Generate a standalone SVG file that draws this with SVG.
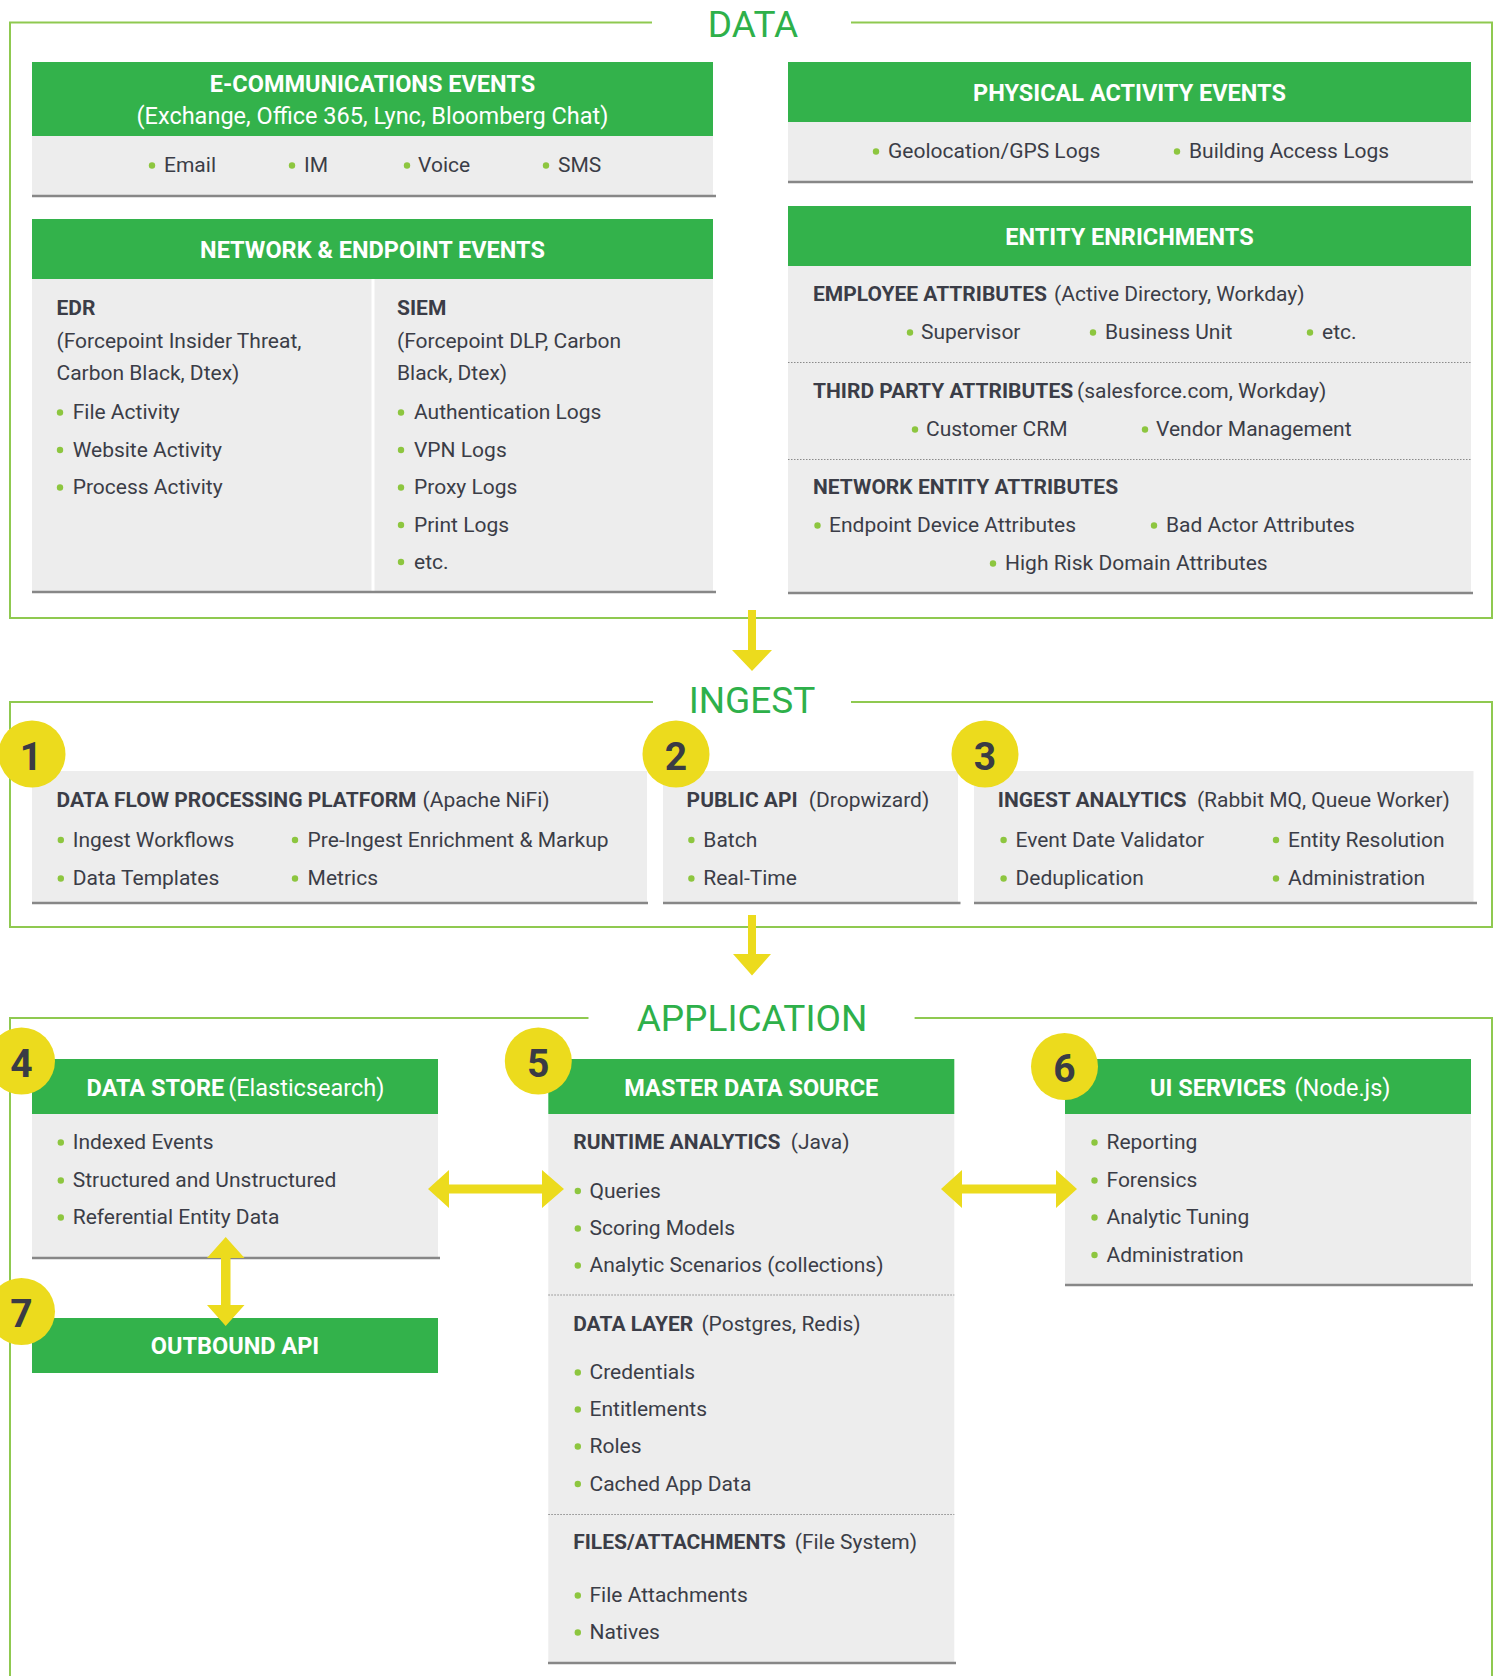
<svg xmlns="http://www.w3.org/2000/svg" width="1498" height="1676" viewBox="0 0 1498 1676">
<style>
.sec{fill:none;stroke:#8fc950;stroke-width:2}
.title{font-family:Roboto,"Liberation Sans",sans-serif;font-size:37px;font-weight:400;fill:#2eb04a;text-anchor:middle}
.hdr{fill:#33b24b}
.bod{fill:#ededed}
.rule{stroke:#878787;stroke-width:2.5}
.dots{stroke:#8a8a8a;stroke-width:1;stroke-dasharray:1.5 1.5}
.ht{font-family:Roboto,"Liberation Sans",sans-serif;font-size:23.5px;font-weight:700;fill:#ffffff}
.hr{font-weight:400}
.t{font-family:Roboto,"Liberation Sans",sans-serif;font-size:21px;font-weight:400;fill:#3b3d47}
.tb{font-weight:700}
.b{fill:#8dc63f}
.circ{fill:#ecdb1d}
.num{font-family:Roboto,"Liberation Sans",sans-serif;font-size:39px;font-weight:700;fill:#3a3b45;text-anchor:middle}
.arr{fill:#ecdb1d}
.mid{text-anchor:middle}
</style>

<!-- Sections -->
<g id="section-data">
<path class="sec" d="M652,22.5 H10 V618 H1492 V22.5 H851"/>
<text class="title" x="753" y="36.5">DATA</text>
</g>
<g id="section-ingest">
<path class="sec" d="M653,702 H10 V927 H1492 V702 H851"/>
<text class="title" x="752" y="712.5">INGEST</text>
</g>
<g id="section-application">
<path class="sec" d="M588.5,1018 H10 V1680 M1492,1680 V1018 H914.6"/>
<text class="title" x="752" y="1031">APPLICATION</text>
</g>

<!-- E-Communications -->
<g id="ecomm">
<rect class="hdr" x="32" y="62" width="681" height="74"/>
<rect class="bod" x="32" y="136" width="681" height="60"/>
<line class="rule" x1="32" y1="196" x2="716" y2="196"/>
<text class="ht mid" x="372.5" y="92">E-COMMUNICATIONS EVENTS</text>
<text class="ht hr mid" x="372.5" y="124">(Exchange, Office 365, Lync, Bloomberg Chat)</text>
<circle class="b" cx="152" cy="165.5" r="3.2"/><text class="t" x="164" y="172">Email</text>
<circle class="b" cx="292" cy="165.5" r="3.2"/><text class="t" x="304" y="172">IM</text>
<circle class="b" cx="407" cy="165.5" r="3.2"/><text class="t" x="418" y="172">Voice</text>
<circle class="b" cx="546" cy="165.5" r="3.2"/><text class="t" x="558" y="172">SMS</text>
</g>

<!-- Network & Endpoint -->
<g id="network-endpoint">
<rect class="hdr" x="32" y="219" width="681" height="60"/>
<rect class="bod" x="32" y="279" width="681" height="313"/>
<line x1="373" y1="279" x2="373" y2="592" stroke="#ffffff" stroke-width="3"/>
<line class="rule" x1="32" y1="592" x2="716" y2="592"/>
<text class="ht mid" x="372.5" y="258">NETWORK &amp; ENDPOINT EVENTS</text>
<text class="t tb" x="56.5" y="315">EDR</text>
<text class="t" x="56.5" y="348">(Forcepoint Insider Threat,</text>
<text class="t" x="56.5" y="380">Carbon Black, Dtex)</text>
<circle class="b" cx="60" cy="412.5" r="3.2"/><text class="t" x="72.7" y="419">File Activity</text>
<circle class="b" cx="60" cy="450" r="3.2"/><text class="t" x="72.7" y="456.5">Website Activity</text>
<circle class="b" cx="60" cy="487.5" r="3.2"/><text class="t" x="72.7" y="494">Process Activity</text>
<text class="t tb" x="397" y="315">SIEM</text>
<text class="t" x="397" y="348">(Forcepoint DLP, Carbon</text>
<text class="t" x="397" y="380">Black, Dtex)</text>
<circle class="b" cx="401" cy="412.5" r="3.2"/><text class="t" x="414" y="419">Authentication Logs</text>
<circle class="b" cx="401" cy="450" r="3.2"/><text class="t" x="414" y="456.5">VPN Logs</text>
<circle class="b" cx="401" cy="487.5" r="3.2"/><text class="t" x="414" y="494">Proxy Logs</text>
<circle class="b" cx="401" cy="525" r="3.2"/><text class="t" x="414" y="531.5">Print Logs</text>
<circle class="b" cx="401" cy="562" r="3.2"/><text class="t" x="414" y="568.5">etc.</text>
</g>

<!-- Physical Activity -->
<g id="physical-activity">
<rect class="hdr" x="788" y="62" width="683" height="60"/>
<rect class="bod" x="788" y="122" width="683" height="60"/>
<line class="rule" x1="788" y1="182" x2="1473" y2="182"/>
<text class="ht mid" x="1129.5" y="101">PHYSICAL ACTIVITY EVENTS</text>
<circle class="b" cx="876" cy="151.5" r="3.2"/><text class="t" x="888" y="158">Geolocation/GPS Logs</text>
<circle class="b" cx="1177" cy="151.5" r="3.2"/><text class="t" x="1189" y="158">Building Access Logs</text>
</g>

<!-- Entity Enrichments -->
<g id="entity-enrichments">
<rect class="hdr" x="788" y="206" width="683" height="60"/>
<rect class="bod" x="788" y="266" width="683" height="327"/>
<line class="rule" x1="788" y1="593" x2="1473" y2="593"/>
<line class="dots" x1="788" y1="362.5" x2="1471" y2="362.5"/>
<line class="dots" x1="788" y1="459.5" x2="1471" y2="459.5"/>
<text class="ht mid" x="1129.5" y="245">ENTITY ENRICHMENTS</text>
<text class="t" y="301"><tspan class="tb" x="813">EMPLOYEE ATTRIBUTES</tspan><tspan x="1054">(Active Directory, Workday)</tspan></text>
<circle class="b" cx="910" cy="332.5" r="3.2"/><text class="t" x="921" y="339">Supervisor</text>
<circle class="b" cx="1093" cy="332.5" r="3.2"/><text class="t" x="1105" y="339">Business Unit</text>
<circle class="b" cx="1310" cy="332.5" r="3.2"/><text class="t" x="1322" y="339">etc.</text>
<text class="t" y="398"><tspan class="tb" x="813">THIRD PARTY ATTRIBUTES</tspan><tspan x="1077">(salesforce.com, Workday)</tspan></text>
<circle class="b" cx="915" cy="429.5" r="3.2"/><text class="t" x="926" y="436">Customer CRM</text>
<circle class="b" cx="1145" cy="429.5" r="3.2"/><text class="t" x="1156" y="436">Vendor Management</text>
<text class="t tb" x="813" y="494">NETWORK ENTITY ATTRIBUTES</text>
<circle class="b" cx="817.5" cy="525.5" r="3.2"/><text class="t" x="829" y="532">Endpoint Device Attributes</text>
<circle class="b" cx="1154" cy="525.5" r="3.2"/><text class="t" x="1166" y="532">Bad Actor Attributes</text>
<circle class="b" cx="993" cy="563.5" r="3.2"/><text class="t" x="1005" y="570">High Risk Domain Attributes</text>
</g>

<!-- Ingest boxes -->
<g id="data-flow-platform">
<rect class="bod" x="32" y="771" width="615" height="132"/>
<line class="rule" x1="32" y1="903" x2="648" y2="903"/>
<text class="t" y="807"><tspan class="tb" x="56.5">DATA FLOW PROCESSING PLATFORM</tspan><tspan x="422.5">(Apache NiFi)</tspan></text>
<circle class="b" cx="60.8" cy="840" r="3.2"/><text class="t" x="72.7" y="846.5">Ingest Workflows</text>
<circle class="b" cx="295" cy="840" r="3.2"/><text class="t" x="307.6" y="846.5">Pre-Ingest Enrichment &amp; Markup</text>
<circle class="b" cx="60.8" cy="878.5" r="3.2"/><text class="t" x="72.7" y="885">Data Templates</text>
<circle class="b" cx="295" cy="878.5" r="3.2"/><text class="t" x="307.6" y="885">Metrics</text>
<circle class="circ" cx="32" cy="754" r="33.5"/>
<text class="num" x="31" y="769.5">1</text>
</g>
<g id="public-api">
<rect class="bod" x="663" y="771" width="295" height="132"/>
<line class="rule" x1="663" y1="903" x2="960.5" y2="903"/>
<text class="t" y="807"><tspan class="tb" x="686.6">PUBLIC API</tspan><tspan x="808.8">(Dropwizard)</tspan></text>
<circle class="b" cx="691.4" cy="840" r="3.2"/><text class="t" x="703.3" y="846.5">Batch</text>
<circle class="b" cx="691.4" cy="878.5" r="3.2"/><text class="t" x="703.3" y="885">Real-Time</text>
<circle class="circ" cx="676" cy="754" r="33.5"/>
<text class="num" x="676" y="769.5">2</text>
</g>
<g id="ingest-analytics">
<rect class="bod" x="974" y="771" width="499.5" height="132"/>
<line class="rule" x1="974" y1="903" x2="1477" y2="903"/>
<text class="t" y="807"><tspan class="tb" x="997.8">INGEST ANALYTICS</tspan><tspan x="1196.9">(Rabbit MQ, Queue Worker)</tspan></text>
<circle class="b" cx="1003.6" cy="840" r="3.2"/><text class="t" x="1015.5" y="846.5">Event Date Validator</text>
<circle class="b" cx="1276" cy="840" r="3.2"/><text class="t" x="1288" y="846.5">Entity Resolution</text>
<circle class="b" cx="1003.6" cy="878.5" r="3.2"/><text class="t" x="1015.5" y="885">Deduplication</text>
<circle class="b" cx="1276" cy="878.5" r="3.2"/><text class="t" x="1288" y="885">Administration</text>
<circle class="circ" cx="985" cy="754" r="33.5"/>
<text class="num" x="985" y="769.5">3</text>
</g>

<!-- Application boxes -->
<g id="data-store">
<rect class="hdr" x="32" y="1059" width="406" height="55"/>
<rect class="bod" x="32" y="1114" width="406" height="144"/>
<line class="rule" x1="32" y1="1258" x2="440" y2="1258"/>
<text class="ht" y="1096"><tspan x="86.6">DATA STORE</tspan><tspan class="hr" x="228.2">(Elasticsearch)</tspan></text>
<circle class="b" cx="60.8" cy="1142.5" r="3.2"/><text class="t" x="72.7" y="1149">Indexed Events</text>
<circle class="b" cx="60.8" cy="1180.5" r="3.2"/><text class="t" x="72.7" y="1187">Structured and Unstructured</text>
<circle class="b" cx="60.8" cy="1217.5" r="3.2"/><text class="t" x="72.7" y="1224">Referential Entity Data</text>
<circle class="circ" cx="21.5" cy="1061" r="33.5"/>
<text class="num" x="21.5" y="1076.5">4</text>
</g>
<g id="outbound-api">
<rect class="hdr" x="32" y="1318" width="406" height="55"/>
<text class="ht mid" x="235" y="1354">OUTBOUND API</text>
<circle class="circ" cx="21.5" cy="1311.5" r="33.5"/>
<text class="num" x="21.5" y="1327">7</text>
</g>
<g id="master-data-source">
<rect class="hdr" x="548.3" y="1059" width="406" height="55"/>
<rect class="bod" x="548.3" y="1114" width="406" height="549"/>
<line class="rule" x1="548" y1="1663" x2="956" y2="1663"/>
<line class="dots" x1="548.3" y1="1295" x2="954.3" y2="1295"/>
<line class="dots" x1="548.3" y1="1514.5" x2="954.3" y2="1514.5"/>
<text class="ht mid" x="751.3" y="1096">MASTER DATA SOURCE</text>
<text class="t" y="1149"><tspan class="tb" x="573.2">RUNTIME ANALYTICS</tspan><tspan x="790.7">(Java)</tspan></text>
<circle class="b" cx="577.8" cy="1191" r="3.2"/><text class="t" x="589.5" y="1197.5">Queries</text>
<circle class="b" cx="577.8" cy="1228.5" r="3.2"/><text class="t" x="589.5" y="1235">Scoring Models</text>
<circle class="b" cx="577.8" cy="1265.5" r="3.2"/><text class="t" x="589.5" y="1272">Analytic Scenarios (collections)</text>
<text class="t" y="1331"><tspan class="tb" x="573.2">DATA LAYER</tspan><tspan x="701.4">(Postgres, Redis)</tspan></text>
<circle class="b" cx="577.8" cy="1372.5" r="3.2"/><text class="t" x="589.5" y="1379">Credentials</text>
<circle class="b" cx="577.8" cy="1409.5" r="3.2"/><text class="t" x="589.5" y="1416">Entitlements</text>
<circle class="b" cx="577.8" cy="1446.5" r="3.2"/><text class="t" x="589.5" y="1453">Roles</text>
<circle class="b" cx="577.8" cy="1484" r="3.2"/><text class="t" x="589.5" y="1490.5">Cached App Data</text>
<text class="t" y="1549"><tspan class="tb" x="573.2">FILES/ATTACHMENTS</tspan><tspan x="794.7">(File System)</tspan></text>
<circle class="b" cx="577.8" cy="1595.5" r="3.2"/><text class="t" x="589.5" y="1602">File Attachments</text>
<circle class="b" cx="577.8" cy="1632.5" r="3.2"/><text class="t" x="589.5" y="1639">Natives</text>
<circle class="circ" cx="538.3" cy="1061" r="33.5"/>
<text class="num" x="538.3" y="1076.5">5</text>
</g>
<g id="ui-services">
<rect class="hdr" x="1065" y="1059" width="406" height="55"/>
<rect class="bod" x="1065" y="1114" width="406" height="171"/>
<line class="rule" x1="1065" y1="1285" x2="1473" y2="1285"/>
<text class="ht" y="1096"><tspan x="1150">UI SERVICES</tspan><tspan class="hr" x="1294.5">(Node.js)</tspan></text>
<circle class="b" cx="1094.5" cy="1142.5" r="3.2"/><text class="t" x="1106.5" y="1149">Reporting</text>
<circle class="b" cx="1094.5" cy="1180.5" r="3.2"/><text class="t" x="1106.5" y="1187">Forensics</text>
<circle class="b" cx="1094.5" cy="1217.5" r="3.2"/><text class="t" x="1106.5" y="1224">Analytic Tuning</text>
<circle class="b" cx="1094.5" cy="1255" r="3.2"/><text class="t" x="1106.5" y="1261.5">Administration</text>
<circle class="circ" cx="1064.5" cy="1066.5" r="33.5"/>
<text class="num" x="1064.5" y="1082">6</text>
</g>

<!-- Connectors -->
<g id="connectors">
<polygon class="arr" points="748,610 756,610 756,650 772,650 752,671 732,650 748,650"/>
<polygon class="arr" points="748,915 756,915 756,954 771,954 752,975.5 733,954 748,954"/>
<polygon class="arr" points="428,1189 449,1170 449,1184.5 542,1184.5 542,1170 564,1189 542,1208 542,1193.5 449,1193.5 449,1208"/>
<polygon class="arr" points="941,1189 962,1170 962,1184.5 1056,1184.5 1056,1170 1077,1189 1056,1208 1056,1193.5 962,1193.5 962,1208"/>
<polygon class="arr" points="225.7,1237 244.5,1258 230.5,1258 230.5,1305 244.5,1305 225.7,1326 207,1305 221,1305 221,1258 207,1258"/>
</g>
</svg>
